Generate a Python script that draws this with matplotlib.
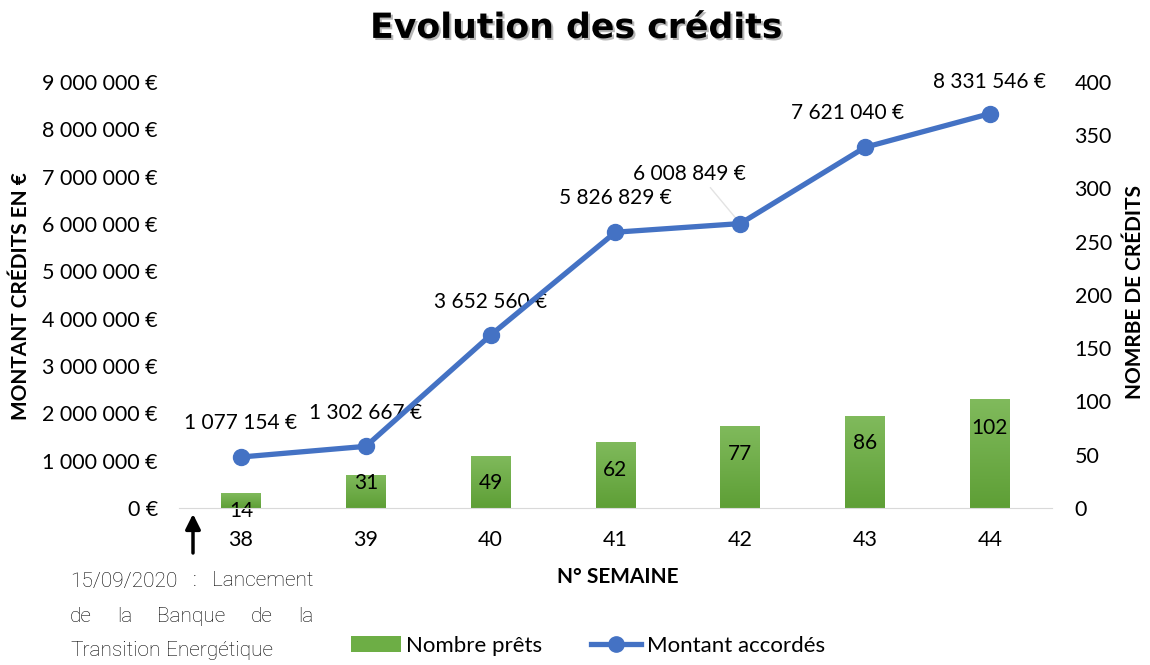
"""Evolution des crédits: montant accordé (courbe) et nombre de prêts (barres) par semaine."""

import matplotlib
matplotlib.use("Agg")
import matplotlib.pyplot as plt
import matplotlib.patheffects as pe
import numpy as np
from matplotlib.colors import LinearSegmentedColormap
from matplotlib.lines import Line2D
from matplotlib.patches import Patch
from matplotlib.ticker import FuncFormatter, MultipleLocator

weeks = ["38", "39", "40", "41", "42", "43", "44"]
montants = [1077154, 1302667, 3652560, 5826829, 6008849, 7621040, 8331546]
nb_prets = [14, 31, 49, 62, 77, 86, 102]

BLUE = "#4472C4"
GREEN_TOP = "#80BA5C"
GREEN_BOT = "#5E9F36"
FONT = "Lato"

plt.rcParams["font.family"] = [FONT, "DejaVu Sans"]


def euro(v, _pos=None):
    return f"{v:,.0f}".replace(",", " ") + " €"


fig = plt.figure(figsize=(11.5, 6.65), dpi=100)
ax = fig.add_axes([0.1553, 0.2361, 0.7598, 0.6406])
ax2 = ax.twinx()
ax.set_zorder(ax2.get_zorder() + 1)
ax.patch.set_visible(False)

x = np.arange(len(weeks))

# bars (right axis) with a light vertical gradient
bars = ax2.bar(x, nb_prets, width=0.32, color=GREEN_BOT, zorder=2)
cmap = LinearSegmentedColormap.from_list("g", [GREEN_BOT, GREEN_TOP])
grad = np.linspace(0, 1, 64).reshape(-1, 1)
for b in bars:
    x0, y0 = b.get_x(), b.get_y()
    im = ax2.imshow(grad, extent=[x0, x0 + b.get_width(), y0, y0 + b.get_height()],
                    origin="lower", aspect="auto", cmap=cmap, zorder=3)
    im.set_clip_path(b)

# bar labels (pixel offsets from bar top)
bar_off = [-18, -8, -27, -28, -28, -27, -29]
for xi, v, off in zip(x, nb_prets, bar_off):
    ax2.annotate(str(v), (xi, v), xytext=(0, off * 0.72), textcoords="offset points",
                 ha="center", va="center", fontsize=15, color="black", zorder=5)

ax2.set_ylim(0, 400)
ax2.yaxis.set_major_locator(MultipleLocator(50))

# line (left axis)
ax.plot(x, montants, color=BLUE, lw=3.8, marker="o", ms=11.5, solid_capstyle="round",
        zorder=4)
ax.set_ylim(0, 9_000_000)
ax.set_xlim(-0.5, len(weeks) - 0.5)
ax.yaxis.set_major_locator(MultipleLocator(1_000_000))
ax.yaxis.set_major_formatter(FuncFormatter(euro))
ax.set_xticks(x, weeks)

# value labels on the line (pixel offsets)
line_off = [(0, 34), (0, 33), (0, 33), (0, 34), (-51, 50), (-18, 34), (0, 32)]
for i, (xi, v) in enumerate(zip(x, montants)):
    dx, dy = line_off[i]
    ax.annotate(euro(v), (xi, v), xytext=(dx * 0.72, dy * 0.72), textcoords="offset points",
                ha="center", va="center", fontsize=15, annotation_clip=False)
# faint leader line for the week 42 label
ax.annotate("", (x[4], montants[4]), xytext=(-30 * 0.72, 36 * 0.72), textcoords="offset points",
            arrowprops=dict(arrowstyle="-", color="#E3E3E3", lw=1, shrinkA=0, shrinkB=4))

for a in (ax, ax2):
    for s in a.spines.values():
        s.set_visible(False)
    a.tick_params(length=0, labelsize=15.5)
ax.spines["bottom"].set_visible(True)
ax.spines["bottom"].set_color("#D9D9D9")
ax.tick_params(axis="y", pad=15)
ax.tick_params(axis="x", pad=16)
ax2.tick_params(axis="y", pad=16)

# titles
fig.text(0.501, 0.958, "Evolution des crédits", ha="center", va="center", fontsize=25,
         fontweight="bold", family="DejaVu Sans",
         path_effects=[pe.withSimplePatchShadow(offset=(1.5, -1.5), shadow_rgbFace="#888888",
                                                alpha=0.6)])
fig.text(0.018, 0.555, "MONTANT CRÉDITS EN €", rotation=90, ha="center", va="center",
         fontsize=15, fontweight="bold")
fig.text(0.987, 0.561, "NOMRBE DE CRÉDITS", rotation=90, ha="center", va="center",
         fontsize=15, fontweight="bold")
fig.text(0.537, 0.132, "N° SEMAINE", ha="center", va="center", fontsize=15,
         fontweight="bold")

# launch note with arrow
ax.annotate("", xy=(193 / 1150, 1 - 514 / 665), xytext=(193 / 1150, 1 - 553 / 665),
            xycoords="figure fraction", textcoords="figure fraction",
            arrowprops=dict(arrowstyle="-|>,head_width=0.45,head_length=0.9", color="black",
                            lw=2.5, shrinkA=0, shrinkB=0))

note_lines = [["15/09/2020", ":", "Lancement"],
              ["de", "la", "Banque", "de", "la"],
              ["Transition", "Energétique"]]
note_y = [581, 616, 651]
fig.canvas.draw()
renderer = fig.canvas.get_renderer()
x_left, x_right = 70, 313
for k, (words, ypx) in enumerate(zip(note_lines, note_y)):
    texts = [fig.text(0, 1 - ypx / 665, w, ha="left", va="center", fontsize=15,
                      fontweight="light", family="Roboto", color="black") for w in words]
    widths = [t.get_window_extent(renderer).width for t in texts]
    if k == len(note_lines) - 1:
        gap = 6
    else:
        gap = (x_right - x_left - sum(widths)) / (len(words) - 1)
    pos = x_left
    for t, w in zip(texts, widths):
        t.set_x(pos / 1150)
        pos += w + gap

# legend
handles = [Patch(facecolor="#6DAE45", edgecolor="none"),
           Line2D([], [], color=BLUE, lw=3.8, marker="o", ms=11)]
fig.legend(handles, ["Nombre prêts", "Montant accordés"], loc="center",
           bbox_to_anchor=(0.511, 0.029), ncol=2, frameon=False, fontsize=16,
           handlelength=2.25, handletextpad=0.25, columnspacing=2.2, handleheight=0.7)

fig.savefig("out.png", dpi=100)
